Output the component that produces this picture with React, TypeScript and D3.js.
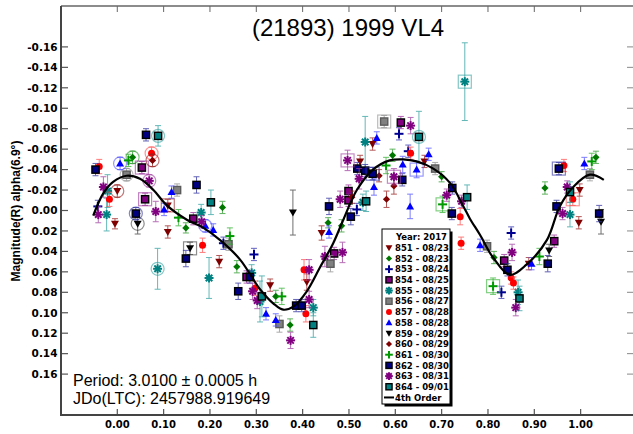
import React from "react";
import * as d3 from "d3";

// ---------- data ----------
const TITLE = "(21893) 1999 VL4";
const Y_LABEL = "Magnitude(R) alpha(6.9°)";
const PERIOD_TEXT = "Period: 3.0100 ± 0.0005 h";
const JD_TEXT = "JDo(LTC): 2457988.919649";
const LEGEND_TITLE = "Year: 2017";
const X_TICKS = [0, 0.1, 0.2, 0.3, 0.4, 0.5, 0.6, 0.7, 0.8, 0.9, 1.0];
const Y_TICKS = [-0.16, -0.14, -0.12, -0.1, -0.08, -0.06, -0.04, -0.02, 0, 0.02, 0.04, 0.06, 0.08, 0.1, 0.12, 0.14, 0.16];

// [phase, magnitude, error, highlight(0 none,1 circle,2 square)]
const S851 = [[0.0, -0.019, 0.006, 1], [-0.005, 0.013, 0.005, 0], [0.109, -0.005, 0.006, 2], [0.109, 0.021, 0.006, 0], [0.22, 0.05, 0.006, 0], [0.33, 0.073, 0.006, 0], [0.409, 0.07, 0.008, 0], [0.441, 0.022, 0.007, 0], [0.524, -0.048, 0.006, 0], [0.551, -0.065, 0.006, 0], [0.663, -0.048, 0.006, 0], [0.888, 0.052, 0.006, 0], [0.998, -0.02, 0.006, 0], [0.996, 0.012, 0.006, 0]];
const S852 = [[0.033, -0.052, 0.006, 1], [0.227, -0.003, 0.006, 0], [0.148, 0.017, 0.005, 0], [0.258, 0.055, 0.006, 0], [0.342, 0.084, 0.006, 0], [0.373, 0.112, 0.006, 0], [0.455, 0.012, 0.005, 0], [0.484, 0.015, 0.006, 0], [0.594, -0.054, 0.006, 0], [0.7, -0.033, 0.005, 0], [0.813, 0.046, 0.006, 0], [0.923, -0.022, 0.006, 0], [1.033, -0.052, 0.006, 0]];
const S853 = [[-0.042, -0.004, 0.006, 0], [0.229, 0.032, 0.006, 0], [0.295, 0.043, 0.006, 0], [0.517, -0.001, 0.006, 0], [0.608, -0.075, 0.006, 0], [0.628, -0.058, 0.006, 0], [0.829, 0.08, 0.006, 0], [0.85, 0.022, 0.006, 0]];
const S854 = [[0.053, -0.042, 0.006, 2], [0.06, -0.011, 0.006, 2], [0.164, 0.008, 0.006, 0], [0.279, 0.065, 0.006, 0], [0.468, 0.042, 0.006, 0], [0.499, -0.019, 0.006, 0], [0.499, -0.01, 0.006, 0], [0.612, -0.086, 0.006, 0], [0.835, 0.049, 0.006, 0], [0.943, 0.03, 0.006, 0]];
const S855 = [[-0.021, -0.019, 0.016, 0], [-0.023, 0.004, 0.016, 0], [0.087, 0.057, 0.02, 1], [0.181, 0.002, 0.008, 0], [0.198, 0.066, 0.02, 0], [0.29, 0.061, 0.008, 0], [0.308, 0.089, 0.02, 0], [0.423, 0.095, 0.008, 0], [0.53, -0.008, 0.008, 0], [0.535, -0.067, 0.025, 0], [0.75, -0.126, 0.038, 2], [0.865, 0.08, 0.012, 0], [0.977, 0.004, 0.012, 0]];
const S856 = [[0.02, -0.035, 0.006, 1], [0.129, -0.02, 0.006, 0], [0.24, 0.033, 0.006, 0], [0.35, 0.111, 0.008, 0], [0.46, 0.052, 0.008, 0], [0.576, -0.087, 0.006, 2], [0.686, -0.041, 0.006, 0], [0.798, 0.035, 0.006, 0], [1.02, -0.035, 0.006, 0]];
const S857 = [[-0.039, -0.043, 0.007, 0], [0.074, -0.056, 0.006, 1], [-0.017, -0.011, 0.007, 0], [0.184, 0.034, 0.007, 0], [0.297, 0.076, 0.007, 0], [0.403, 0.058, 0.01, 0], [0.407, 0.101, 0.008, 0], [0.633, -0.056, 0.006, 0], [0.74, 0.006, 0.008, 0], [0.742, 0.032, 0.006, 0], [0.85, 0.066, 0.006, 0], [0.855, 0.071, 0.006, 0], [0.964, -0.044, 0.006, 0], [0.983, -0.011, 0.006, 2]];
const S858 = [[0.006, -0.046, 0.006, 1], [0.101, -0.001, 0.006, 0], [0.117, -0.018, 0.006, 0], [0.19, 0.015, 0.006, 1], [0.207, 0.019, 0.006, 0], [0.321, 0.101, 0.006, 0], [0.342, 0.107, 0.006, 0], [0.457, 0.021, 0.006, 0], [0.554, -0.023, 0.008, 0], [0.56, -0.071, 0.006, 0], [0.616, -0.045, 0.008, 0], [0.632, -0.004, 0.012, 0], [0.646, -0.04, 0.008, 2], [0.672, -0.055, 0.006, 0], [0.783, 0.034, 0.006, 0], [0.894, 0.052, 0.006, 0], [1.008, -0.046, 0.006, 0]];
const S859 = [[0.044, 0.013, 0.01, 1], [0.157, 0.037, 0.006, 2], [0.379, 0.002, 0.022, 0], [0.932, 0.039, 0.006, 0], [1.044, 0.011, 0.012, 0]];
const S860 = [[0.076, -0.049, 0.006, 1], [0.506, -0.013, 0.006, 0], [0.565, -0.034, 0.006, 0], [0.597, -0.024, 0.008, 0], [0.581, -0.011, 0.008, 0]];
const S861 = [[0.024, -0.049, 0.006, 0], [0.132, 0.007, 0.008, 0], [0.243, 0.025, 0.008, 0], [0.355, 0.084, 0.008, 0], [0.58, -0.044, 0.008, 0], [0.702, -0.006, 0.008, 2], [0.811, 0.074, 0.008, 2], [0.911, 0.045, 0.008, 0], [1.024, -0.048, 0.008, 0]];
const S862 = [[-0.047, -0.04, 0.006, 0], [0.062, -0.074, 0.006, 0], [0.04, 0.003, 0.006, 1], [0.171, -0.025, 0.008, 0], [0.148, 0.047, 0.008, 0], [0.261, 0.079, 0.008, 0], [0.286, 0.065, 0.006, 0], [0.386, 0.093, 0.006, 0], [0.398, 0.093, 0.006, 0], [0.457, -0.004, 0.008, 0], [0.504, 0.006, 0.008, 0], [0.518, -0.041, 0.006, 0], [0.535, -0.039, 0.006, 0], [0.551, -0.036, 0.006, 2], [0.615, -0.03, 0.006, 0], [0.723, -0.022, 0.006, 0], [0.722, 0.003, 0.006, 0], [0.842, 0.058, 0.006, 0], [0.929, 0.052, 0.008, 0], [0.953, -0.041, 0.006, 2], [0.948, -0.004, 0.006, 0], [1.04, 0.003, 0.008, 0]];
const S863 = [[0.069, -0.029, 0.006, 1], [-0.03, -0.023, 0.01, 0], [-0.041, 0.004, 0.008, 0], [0.083, 0.001, 0.01, 0], [0.182, 0.011, 0.006, 0], [0.292, 0.079, 0.008, 0], [0.302, 0.088, 0.008, 0], [0.374, 0.127, 0.008, 0], [0.414, 0.058, 0.01, 0], [0.414, 0.087, 0.008, 0], [0.448, 0.045, 0.01, 0], [0.486, 0.041, 0.01, 0], [0.481, -0.011, 0.008, 0], [0.497, -0.049, 0.01, 2], [0.522, -0.031, 0.01, 0], [0.597, -0.033, 0.008, 2], [0.633, -0.083, 0.008, 0], [0.711, -0.015, 0.006, 0], [0.743, -0.009, 0.006, 0], [0.852, 0.041, 0.008, 0], [0.86, 0.095, 0.008, 0], [0.961, 0.003, 0.006, 0], [0.971, -0.023, 0.006, 0]];
const S864 = [[0.088, -0.073, 0.01, 1], [0.202, -0.008, 0.012, 0], [0.312, 0.084, 0.02, 0], [0.423, 0.112, 0.012, 0], [0.537, -0.009, 0.01, 0], [0.651, -0.072, 0.025, 1], [0.755, -0.013, 0.012, 0], [0.868, 0.086, 0.012, 0], [0.977, -0.018, 0.01, 0]];

// 4th order fit
const FIT = [[-0.052, 0.005], [-0.03, -0.017], [-0.009, -0.028], [0.02, -0.034], [0.049, -0.031], [0.078, -0.02], [0.107, -0.005], [0.15, 0.009], [0.186, 0.017], [0.222, 0.029], [0.265, 0.048], [0.308, 0.077], [0.337, 0.091], [0.358, 0.097], [0.38, 0.094], [0.409, 0.079], [0.437, 0.056], [0.466, 0.032], [0.486, 0.011], [0.517, -0.02], [0.552, -0.04], [0.588, -0.049], [0.617, -0.05], [0.646, -0.048], [0.682, -0.041], [0.718, -0.027], [0.747, -0.004], [0.761, 0.008], [0.783, 0.024], [0.811, 0.046], [0.847, 0.063], [0.883, 0.053], [0.927, 0.029], [0.955, -0.004], [0.984, -0.023], [1.02, -0.035], [1.05, -0.03]];

const SERIES = [
  { name: "851 - 08/23", data: S851, shape: "triDown", fill: "#800000", stroke: "none", bar: "#9a2020" },
  { name: "852 - 08/23", data: S852, shape: "diamond", fill: "#007800", stroke: "none", bar: "#2a9a2a" },
  { name: "853 - 08/24", data: S853, shape: "plus", fill: "#000090", stroke: "#000090", bar: "#3030b0" },
  { name: "854 - 08/25", data: S854, shape: "square", fill: "#800080", stroke: "#000000", bar: "#9a309a" },
  { name: "855 - 08/25", data: S855, shape: "asterisk", fill: "#008080", stroke: "#008080", bar: "#30a0a0" },
  { name: "856 - 08/27", data: S856, shape: "square", fill: "#808080", stroke: "#5a5a5a", bar: "#909090" },
  { name: "857 - 08/28", data: S857, shape: "circle", fill: "#ff0000", stroke: "none", bar: "#ff5050" },
  { name: "858 - 08/28", data: S858, shape: "triUp", fill: "#0000ff", stroke: "none", bar: "#5050ff" },
  { name: "859 - 08/29", data: S859, shape: "triDown", fill: "#000000", stroke: "none", bar: "#404040" },
  { name: "860 - 08/29", data: S860, shape: "diamond", fill: "#800000", stroke: "none", bar: "#9a2020" },
  { name: "861 - 08/30", data: S861, shape: "plus", fill: "#009900", stroke: "#009900", bar: "#30b030" },
  { name: "862 - 08/30", data: S862, shape: "square", fill: "#000080", stroke: "#000000", bar: "#3030a0" },
  { name: "863 - 08/31", data: S863, shape: "asterisk", fill: "#800080", stroke: "#800080", bar: "#a040a0" },
  { name: "864 - 09/01", data: S864, shape: "square", fill: "#008080", stroke: "#000000", bar: "#30a0a0" },
];

// ---------- layout ----------
const W = 633;
const H = 434;
const PL = 61, PR = 633, PT = 6, PB = 415;

const x = d3.scaleLinear().domain([-0.1215, 1.113]).range([PL, PR]);
const y = d3.scaleLinear().domain([-0.2, 0.2]).range([PT, PB]);

const TICK_FONT = "'DejaVu Sans', Verdana, sans-serif";
const ARIAL = "'Liberation Sans', Arial, sans-serif";

function Marker({ shape, cx, cy, fill, stroke, s = 1 }) {
  const k = s;
  switch (shape) {
    case "triDown":
      return <path d={`M${cx - 4 * k},${cy - 3 * k}L${cx + 4 * k},${cy - 3 * k}L${cx},${cy + 4 * k}Z`} fill={fill} />;
    case "triUp":
      return <path d={`M${cx - 4 * k},${cy + 3 * k}L${cx + 4 * k},${cy + 3 * k}L${cx},${cy - 4 * k}Z`} fill={fill} />;
    case "diamond":
      return <path d={`M${cx},${cy - 3.6 * k}L${cx + 3.6 * k},${cy}L${cx},${cy + 3.6 * k}L${cx - 3.6 * k},${cy}Z`} fill={fill} />;
    case "circle":
      return <circle cx={cx} cy={cy} r={3.5 * k} fill={fill} />;
    case "square":
      return <rect x={cx - 3.6 * k} y={cy - 3.6 * k} width={7.2 * k} height={7.2 * k} fill={fill} stroke={stroke} strokeWidth={1.4} />;
    case "plus":
      return (
        <g stroke={stroke} strokeWidth={2}>
          <line x1={cx - 4.5 * k} x2={cx + 4.5 * k} y1={cy} y2={cy} />
          <line x1={cx} x2={cx} y1={cy - 4.5 * k} y2={cy + 4.5 * k} />
        </g>
      );
    case "asterisk": {
      const r = 4.5 * k;
      const d = r * 0.72;
      return (
        <g stroke={stroke} strokeWidth={2}>
          <line x1={cx - r} x2={cx + r} y1={cy} y2={cy} />
          <line x1={cx} x2={cx} y1={cy - r} y2={cy + r} />
          <line x1={cx - d} x2={cx + d} y1={cy - d} y2={cy + d} />
          <line x1={cx - d} x2={cx + d} y1={cy + d} y2={cy - d} />
        </g>
      );
    }
    default:
      return null;
  }
}

export default function App() {
  const line = d3
    .line()
    .x((d) => x(d[0]))
    .y((d) => y(d[1]))
    .curve(d3.curveCatmullRom.alpha(0.5));

  const fmt = (v) => {
    const r = Math.round(v * 100) / 100;
    return (r === 0 ? 0 : r).toFixed(2);
  };

  const legX = 382, legY = 229, legW = 68, legH = 175;
  const rowH = 10.69;

  return (
    <svg
      width={W}
      height={H}
      viewBox={`0 0 ${W} ${H}`}
      style={{ position: "absolute", left: 0, top: 0, background: "#fff" }}
    >
      <rect x={0} y={0} width={W} height={H} fill="#fff" />

      {/* title */}
      <text x={348} y={36} textAnchor="middle" fontFamily={ARIAL} fontSize={24} fill="#000">
        {TITLE}
      </text>

      {/* y axis title */}
      <text
        transform={`translate(20,211) rotate(-90)`}
        textAnchor="middle"
        fontFamily={ARIAL}
        fontWeight="bold"
        fontSize={12}
        fill="#000"
      >
        {Y_LABEL}
      </text>

      {/* frame top */}
      <line x1={PL} x2={PR} y1={PT} y2={PT} stroke="#666" strokeWidth={1.5} />

      {/* y ticks */}
      {Y_TICKS.map((t) => (
        <g key={"yt" + t}>
          <line x1={PL} x2={PL + 7} y1={y(t)} y2={y(t)} stroke="#555" strokeWidth={1.2} />
          <line x1={PR - 6} x2={PR} y1={y(t)} y2={y(t)} stroke="#888" strokeWidth={1} />
          <text
            x={57.5}
            y={y(t)}
            dy="0.36em"
            textAnchor="end"
            fontFamily={TICK_FONT}
            fontWeight="bold"
            fontSize={10.5}
            fill="#000"
          >
            {fmt(t)}
          </text>
        </g>
      ))}

      {/* x ticks */}
      {X_TICKS.map((t) => (
        <g key={"xt" + t}>
          <line x1={x(t)} x2={x(t)} y1={PB} y2={PB - 6} stroke="#555" strokeWidth={1.2} />
          <line x1={x(t)} x2={x(t)} y1={PT} y2={PT + 6} stroke="#666" strokeWidth={1} />
          <text
            x={x(t)}
            y={428}
            textAnchor="middle"
            fontFamily={TICK_FONT}
            fontWeight="bold"
            fontSize={10}
            fill="#000"
          >
            {fmt(t)}
          </text>
        </g>
      ))}

      {/* axes lines */}
      <line x1={PL} x2={PL} y1={PT} y2={PB + 1} stroke="#444" strokeWidth={2} />
      <line x1={PL - 1} x2={PR} y1={PB} y2={PB} stroke="#444" strokeWidth={2} />

      {/* data */}
      {SERIES.map((s) => (
        <g key={s.name}>
          {s.data.map((p, i) => {
            const cx = x(p[0]);
            const cy = y(p[1]);
            const y1 = y(p[1] - p[2]);
            const y2 = y(p[1] + p[2]);
            return (
              <g key={i}>
                <g stroke={s.bar} strokeWidth={1} opacity={0.75}>
                  <line x1={cx} x2={cx} y1={y1} y2={y2} />
                  <line x1={cx - 3} x2={cx + 3} y1={y1} y2={y1} />
                  <line x1={cx - 3} x2={cx + 3} y1={y2} y2={y2} />
                </g>
                {p[3] === 1 && <circle cx={cx} cy={cy} r={6.5} fill="none" stroke={s.bar} strokeOpacity={0.6} strokeWidth={1.2} />}
                {p[3] === 2 && <rect x={cx - 6.5} y={cy - 6.5} width={13} height={13} fill="none" stroke={s.bar} strokeOpacity={0.6} strokeWidth={1.2} />}
                <Marker shape={s.shape} cx={cx} cy={cy} fill={s.fill} stroke={s.stroke} />
              </g>
            );
          })}
        </g>
      ))}

      {/* fit curve */}
      <path d={line(FIT) || ""} fill="none" stroke="#000" strokeWidth={2.2} />

      {/* period text */}
      <text x={73} y={386} fontFamily={ARIAL} fontSize={16} fill="#000">
        {PERIOD_TEXT}
      </text>
      <text x={73} y={403.5} fontFamily={ARIAL} fontSize={16} fill="#000">
        {JD_TEXT}
      </text>

      {/* legend */}
      <g>
        <rect x={legX + 2.5} y={legY + 2.5} width={legW} height={legH} fill="#000" />
        <rect x={legX} y={legY} width={legW} height={legH} fill="#fff" stroke="#000" strokeWidth={1} />
        <text x={447} y={240} textAnchor="end" fontFamily={TICK_FONT} fontWeight="bold" fontSize={8.5} fill="#000">
          {LEGEND_TITLE}
        </text>
        {SERIES.map((s, i) => {
          const by = 251 + i * rowH;
          return (
            <g key={"lg" + s.name}>
              <Marker shape={s.shape} cx={389} cy={by - 3.2} fill={s.fill} stroke={s.stroke} s={0.85} />
              <text x={395} y={by} fontFamily={TICK_FONT} fontWeight="bold" fontSize={8.5} fill="#000">
                {s.name}
              </text>
            </g>
          );
        })}
        <line x1={384} x2={394} y1={251 + 14 * rowH - 3.2} y2={251 + 14 * rowH - 3.2} stroke="#000" strokeWidth={2} />
        <text x={395} y={251 + 14 * rowH} fontFamily={TICK_FONT} fontWeight="bold" fontSize={8.5} fill="#000">
          4th Order
        </text>
      </g>
    </svg>
  );
}
